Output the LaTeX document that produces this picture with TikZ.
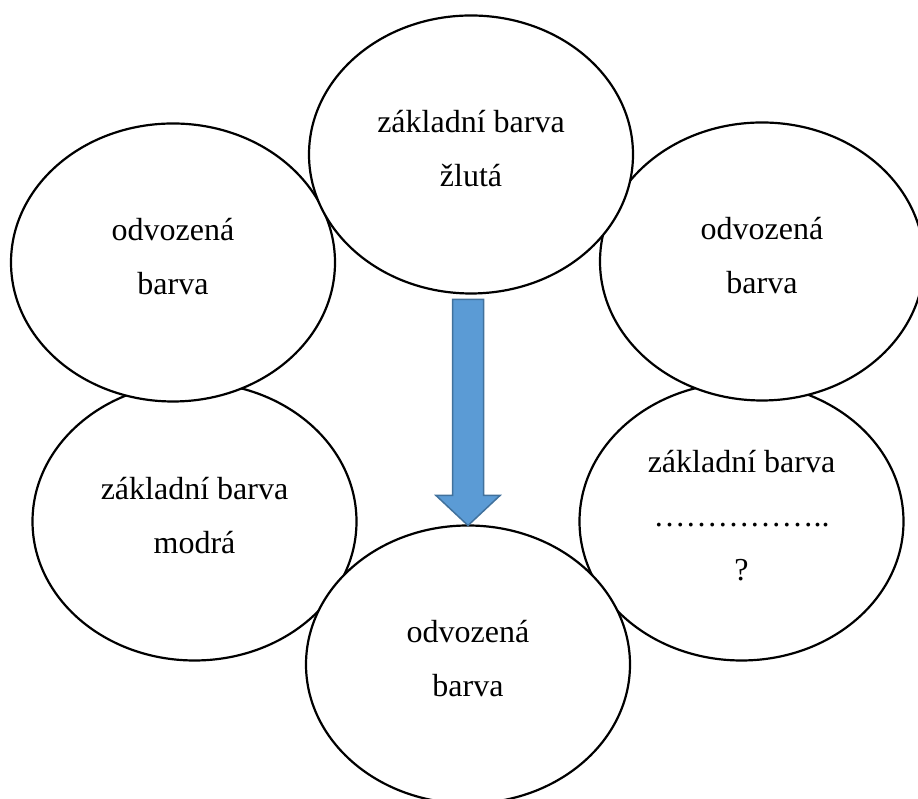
\documentclass[tikz,border=0pt]{standalone}
\usepackage{fontspec}
\setmainfont{Liberation Serif}
\usetikzlibrary{shapes.geometric}
\definecolor{arrowfill}{HTML}{5B9BD5}
\definecolor{arrowline}{HTML}{41719C}

\begin{document}
\begin{tikzpicture}[x=1pt,y=1pt,
    blob/.style={ellipse,draw,fill=white,line width=2.2pt,minimum width=324pt,minimum height=278pt,
      inner sep=0pt,outer sep=0pt,align=center,font=\fontsize{32}{54}\selectfont,
      execute at end node={\rule[-13pt]{0pt}{0pt}}},
    fatarrow/.style={fill=arrowfill,draw=arrowline,line width=1.5pt,line join=miter},
    ]
    \useasboundingbox (0,0) rectangle (918,799);
    \node[blob] (zmodra) at (194.5,277.5) {základní barva\\modrá};
    \node[blob] (zotaz) at (741.5,277.5) {základní barva\\……………..\\?};
    \node[blob] (odvdol) at (468,134.5) {odvozená\\barva};
    \node[blob] (odvlevo) at (173,536.5) {odvozená\\barva};
    \node[blob] (odvpravo) at (762,537.5) {odvozená\\barva};
    \node[blob] (zzluta) at (471,644.5) {základní barva\\žlutá};
    \coordinate (a0) at ([yshift=-6pt]zzluta.south);
    \coordinate (a1) at (a0 -| odvdol.north);
    \filldraw[fatarrow] ([xshift=-15.5pt]a1) -- ([xshift=15.5pt]a1) -- ([xshift=15.5pt,yshift=30pt]odvdol.north)
      -- ([xshift=32pt,yshift=30pt]odvdol.north) -- (odvdol.north) -- ([xshift=-32pt,yshift=30pt]odvdol.north)
      -- ([xshift=-15.5pt,yshift=30pt]odvdol.north) -- cycle;
\end{tikzpicture}
\end{document}
